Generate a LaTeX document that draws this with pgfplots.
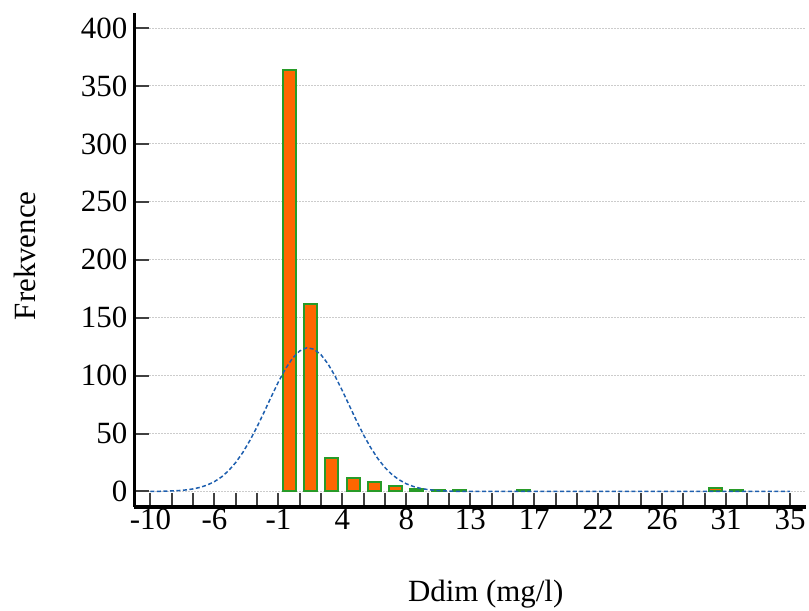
\documentclass[border=0pt]{standalone}
\usepackage{pgfplots}
\pgfplotsset{compat=1.18}
\usepackage{fontspec}
\setmainfont{Liberation Serif}
\definecolor{barfill}{RGB}{255,102,0}
\definecolor{baredge}{RGB}{40,155,40}
\definecolor{curvecol}{RGB}{30,95,175}
\definecolor{tickgray}{RGB}{64,64,64}
\begin{document}
\fontsize{31}{37}\selectfont
\begin{tikzpicture}
\begin{axis}[
  name=ax,
  scale only axis,
  width=671.5bp, height=493.5bp,
  xmin=-11.125, xmax=36.125,
  ymin=-13, ymax=413,
  axis x line*=bottom, axis y line*=left,
  x axis line style={-, line width=4bp, black},
  y axis line style={-, line width=3.5bp, black},
  xtick={-10,-5.5,...,35},
  xticklabels={-10,-6,-1,4,8,13,17,22,26,31,35},
  minor x tick num=2,
  ytick={0,50,...,400},
  tick align=inside,
  major tick length=14bp, minor tick length=14bp,
  tick style={tickgray, line width=2bp},
  ymajorgrids,
  major grid style={gray!40, line width=1bp, dash pattern=on 1.5bp off 1.5bp},
  /pgf/number format/assume math mode=true,
  tick label style={font=\fontsize{31}{37}\selectfont},
  yticklabel style={inner xsep=0pt, xshift=-7bp},
  xticklabel style={inner ysep=0pt, yshift=-2bp},
  xlabel={Ddim (mg/l)}, ylabel={Frekvence},
  label style={font=\fontsize{31}{37}\selectfont},
  xlabel style={at={(axis description cs:0.523,-0.1773)}, anchor=center},
  ylabel style={at={(axis description cs:-0.163,0.508)}, anchor=center},
]
\addplot[ybar, bar width=13bp, fill=barfill, draw=baredge, line width=2bp] coordinates {
  (-0.25,364) (1.25,162) (2.75,29) (4.25,12) (5.75,8) (7.25,5)
  (8.75,2) (10.25,1) (11.75,1) (16.25,1) (29.75,3) (31.25,1)
};
\addplot[curvecol, line width=1.5bp, dash pattern=on 4bp off 2.5bp] coordinates {
  (-10,0.06) (-9.5,0.12) (-9,0.23) (-8.5,0.43) (-8,0.76) (-7.5,1.31)
  (-7,2.18) (-6.5,3.54) (-6,5.57) (-5.5,8.49) (-5,12.5) (-4.5,18.0)
  (-4,25.0) (-3.5,33.7) (-3,44.1) (-2.5,55.8) (-2,68.6) (-1.5,81.8)
  (-1,94.5) (-0.5,105.9) (0,115.1) (0.5,121.3) (1,124.0) (1.5,122.8)
  (2,118.0) (2.5,109.9) (3,99.3) (3.5,87.0) (4,73.9) (4.5,60.9)
  (5,48.6) (5.5,37.7) (6,28.3) (6.5,20.6) (7,14.5) (7.5,10.0)
  (8,6.61) (8.5,4.26) (9,2.66) (9.5,1.61) (10,0.95) (10.5,0.54)
  (11,0.30) (11.5,0.16) (12,0.08) (13,0.02) (14,0) (35,0)
};
\end{axis}
\pgfresetboundingbox
\path[use as bounding box] ([xshift=-134.5bp,yshift=-104.5bp]ax.south west) rectangle ([xshift=3bp,yshift=13bp]ax.north east);
\end{tikzpicture}
\end{document}
